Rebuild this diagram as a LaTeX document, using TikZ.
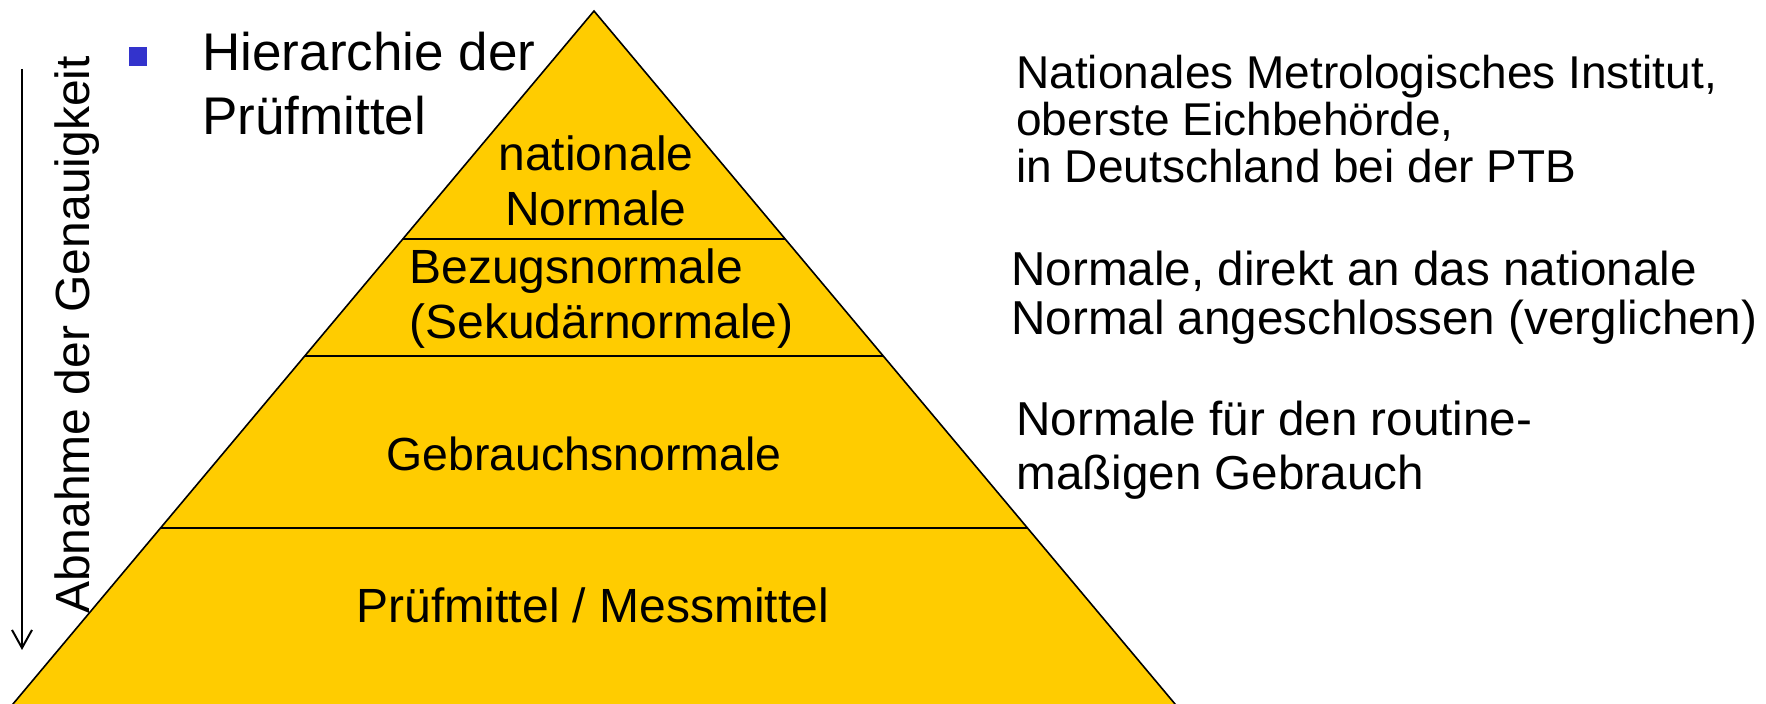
\documentclass[tikz,border=0pt]{standalone}
\usepackage{fontspec}
\setmainfont{Liberation Sans}
\usetikzlibrary{calc,arrows.meta}

\definecolor{pyrgold}{RGB}{255,204,0}
\definecolor{bulletblue}{RGB}{51,51,204}

\tikzset{
	layer/.style={font=\fontsize{24}{27.5}\selectfont, align=center, inner sep=0pt},
	note/.style={font=\fontsize{23.8}{24.5}\selectfont, align=left, anchor=west, inner sep=0pt},
	divider/.style={line width=1.3pt},
	edge/.style={line width=0.8pt},
}

\begin{document}
\begin{tikzpicture}[x=0.5pt,y=-0.5pt]
	\clip (0,0) rectangle (1766,704);
	%\draw[red] (0,0) rectangle (1766,704);
	\coordinate (apex) at (594,11);
	\coordinate (bl) at (4.6,714);
	\coordinate (br) at (1183.4,714);
	\fill[pyrgold] (apex) -- (bl) -- (br) -- cycle;
	\draw[edge] (bl) -- (apex) -- (br);
	\draw[divider] ($(apex)!0.3243!(bl)$) -- ($(apex)!0.3243!(br)$);
	\draw[divider] ($(apex)!0.4908!(bl)$) -- ($(apex)!0.4908!(br)$);
	\draw[divider] ($(apex)!0.7354!(bl)$) -- ($(apex)!0.7354!(br)$);
	\node[layer] (natnorm) at (596,181) {nationale\\Normale};
	\node[layer, align=left, anchor=west] (bezug) at (409,299) {Bezugsnormale\\(Sekudärnormale)};
	\node[layer, font=\fontsize{23.2}{27}\selectfont] (gebrauch) at (584,454) {Gebrauchsnormale};
	\node[layer] (pruef) at (593,605) {Prüfmittel / Messmittel};
	% bullet and heading
	\node[fill=bulletblue, minimum width=9pt, minimum height=9.5pt, inner sep=0pt] (bullet) at (138,56.5) {};
	\node[font=\fontsize{26.5}{32}\selectfont, align=left, anchor=west, inner sep=0pt] (hier) at (202,84) {Hierarchie der\\Prüfmittel};
	% accuracy arrow
	\coordinate (arrtop) at (22,69);
	\coordinate (arrbot) at (22,650);
	\draw[line width=1pt, -{Straight Barb[length=9pt,width=10pt]}] (arrtop) -- (arrbot);
	\node[rotate=90, font=\fontsize{24}{28}\selectfont, inner sep=0pt] (abnahme) at (77,335) {Abnahme der Genauigkeit};
	% explanations
	\node[note, font=\fontsize{23}{23.7}\selectfont] (ptb) at (1016,119) {Nationales Metrologisches Institut,\\oberste Eichbehörde,\\in Deutschland bei der PTB};
	\node[note] (bezugtxt) at (1011,298) {Normale, direkt an das nationale\\Normal angeschlossen (verglichen)};
	\node[note, font=\fontsize{23.8}{27}\selectfont] (gebrtxt) at (1016,450) {Normale für den routine-\\maßigen Gebrauch};
\end{tikzpicture}
\end{document}
